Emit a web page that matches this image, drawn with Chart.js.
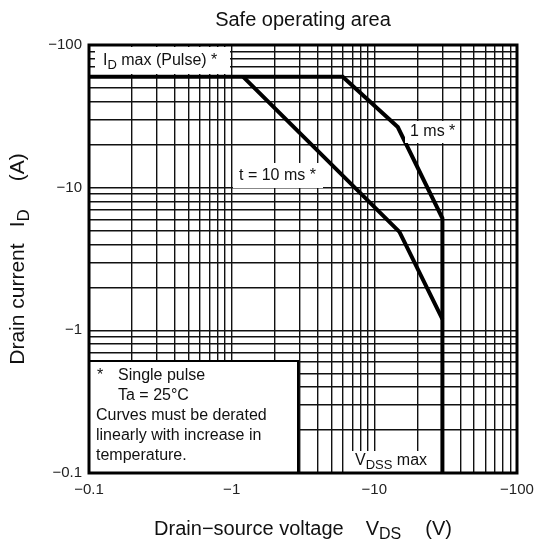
<!DOCTYPE html>
<html>
<head>
<meta charset="utf-8">
<script src="https://cdn.jsdelivr.net/npm/chart.js@4"></script>
<style>
  body { margin: 0; background: #fff; }
  canvas { display: block; }
</style>
</head>
<body>
<canvas id="soa" width="537" height="547"></canvas>
<script>
// axis decades and their labels (drain-source voltage / drain current, negative values)
var decades = [0.1, 1, 10, 100];
var xTickLabels = ['\u22120.1', '\u22121', '\u221210', '\u2212100'];
var yTickLabels = ['\u22120.1', '\u22121', '\u221210', '\u2212100'];

// |VDS| (V) and |ID| (A)
var vds1ms = [0.1, 6, 14.6, 30, 30];
var id1ms = [60, 60, 26.6, 6.1, 0.1];
var vds10ms = [1.2, 15, 30];
var id10ms = [60, 4.9, 1.2];

function toPoints(xs, ys) {
    return xs.map(function(x, i) { return {x: x, y: ys[i]}; });
}

// log grid: 1..9 in each decade
function logTicks(scale) {
    var t = [];
    for (var d = 0; d < decades.length - 1; d++) {
        for (var m = 1; m <= 9; m++) t.push({value: decades[d] * m});
    }
    t.push({value: decades[decades.length - 1]});
    scale.ticks = t;
}

function labelFor(labels) {
    return function(value) {
        for (var i = 0; i < decades.length; i++) {
            if (Math.abs(value / decades[i] - 1) < 1e-6) return labels[i];
        }
        return '';
    };
}

var FONT = '"Liberation Sans", Arial, sans-serif';

// draw text runs with subscripts (and optional gaps), returns width
function runs(ctx, parts, x, y, size, measureOnly) {
    var w = 0;
    parts.forEach(function(p) {
        if (p.gap) { w += p.gap; return; }
        var s = p.sub ? Math.round(size * 0.82) : size;
        ctx.font = s + 'px ' + FONT;
        if (!measureOnly) ctx.fillText(p.t, x + w, y + (p.sub ? size * 0.3 : 0));
        w += ctx.measureText(p.t).width;
    });
    return w;
}

function whiteBox(ctx, x, y, w, h) {
    ctx.fillStyle = '#fff';
    ctx.fillRect(x, y, w, h);
}

var textPlugin = {
    id: 'soaText',
    afterDatasetsDraw: function(chart) {
        var ctx = chart.ctx;
        var a = chart.chartArea;
        ctx.save();
        ctx.textBaseline = 'middle';

        // label boxes
        whiteBox(ctx, a.left + 6, a.top + 2, 135, 27);
        ctx.fillStyle = '#111';
        runs(ctx, [{t: 'I'}, {t: 'D', sub: true}, {t: ' max (Pulse) *'}], a.left + 14, a.top + 16, 16);

        whiteBox(ctx, 405, 121, 55, 22);
        ctx.fillStyle = '#111';
        runs(ctx, [{t: '1 ms *'}], 410, 132, 16);

        whiteBox(ctx, 233, 163, 90, 25);
        ctx.fillStyle = '#111';
        runs(ctx, [{t: 't = 10 ms *'}], 239, 176, 16);

        whiteBox(ctx, 352, 451, 85, a.bottom - 451);
        ctx.fillStyle = '#111';
        runs(ctx, [{t: 'V'}, {t: 'DSS', sub: true}, {t: ' max'}], 355, 461, 16);

        // note box
        whiteBox(ctx, a.left, 361, 209, a.bottom - 361);
        ctx.strokeStyle = '#000';
        ctx.lineWidth = 2;
        ctx.strokeRect(a.left, 361, 209, a.bottom - 361);
        ctx.fillStyle = '#111';
        var notes = [[97, 376, '*'], [118, 376, 'Single pulse'], [118, 396, 'Ta = 25\u00b0C'],
            [96, 416, 'Curves must be derated'], [96, 436, 'linearly with increase in'], [96, 456, 'temperature.']];
        notes.forEach(function(n) { runs(ctx, [{t: n[2]}], n[0], n[1], 16); });

        // frame
        ctx.lineWidth = 3;
        ctx.strokeRect(a.left, a.top, a.right - a.left, a.bottom - a.top);

        // titles
        var cx = (a.left + a.right) / 2;
        ctx.fillStyle = '#111';
        ctx.font = '20px ' + FONT;
        ctx.textAlign = 'center';
        ctx.fillText('Safe operating area', cx, 20);
        ctx.textAlign = 'left';

        var xt = [{t: 'Drain\u2212source voltage'}, {gap: 22}, {t: 'V'}, {t: 'DS', sub: true}, {gap: 24}, {t: '(V)'}];
        var w = runs(ctx, xt, 0, 0, 20, true);
        runs(ctx, xt, cx - w / 2, 529, 20);

        var yt = [{t: 'Drain current'}, {gap: 16}, {t: 'I'}, {t: 'D', sub: true}, {gap: 28}, {t: '(A)'}];
        var cy = (a.top + a.bottom) / 2;
        ctx.translate(18, cy);
        ctx.rotate(-Math.PI / 2);
        w = runs(ctx, yt, 0, 0, 21, true);
        runs(ctx, yt, -w / 2, 0, 21);
        ctx.restore();
    }
};

var ctx = document.getElementById('soa');
var myChart = new Chart(ctx, {
    type: 'line',
    data: {
        datasets: [{
            label: '1 ms',
            data: toPoints(vds1ms, id1ms),
            borderColor: '#000',
            borderWidth: 4,
            pointRadius: 0,
            fill: false
        }, {
            label: '10 ms',
            data: toPoints(vds10ms, id10ms),
            borderColor: '#000',
            borderWidth: 4,
            pointRadius: 0,
            fill: false
        }]
    },
    plugins: [textPlugin],
    options: {
        responsive: false,
        animation: false,
        layout: {padding: {top: 45, right: 20, left: 0, bottom: 0}},
        plugins: {
            legend: {display: false},
            tooltip: {enabled: false}
        },
        scales: {
            x: {
                type: 'logarithmic',
                min: 0.1,
                max: 100,
                afterBuildTicks: logTicks,
                afterFit: function(s) { s.height = 74; s.paddingRight = 0; s.paddingLeft = 0; },
                border: {display: false},
                grid: {color: '#111', lineWidth: 1.4, drawTicks: false},
                ticks: {
                    autoSkip: false,
                    maxRotation: 0,
                    padding: 8,
                    color: '#222',
                    font: {family: FONT, size: 15},
                    callback: labelFor(xTickLabels)
                }
            },
            y: {
                type: 'logarithmic',
                min: 0.1,
                max: 100,
                afterBuildTicks: logTicks,
                afterFit: function(s) { s.width = 89; },
                border: {display: false},
                grid: {color: '#111', lineWidth: 1.4, drawTicks: false},
                ticks: {
                    autoSkip: false,
                    padding: 7,
                    color: '#222',
                    font: {family: FONT, size: 15},
                    callback: labelFor(yTickLabels)
                }
            }
        }
    }
});
</script>
</body>
</html>
